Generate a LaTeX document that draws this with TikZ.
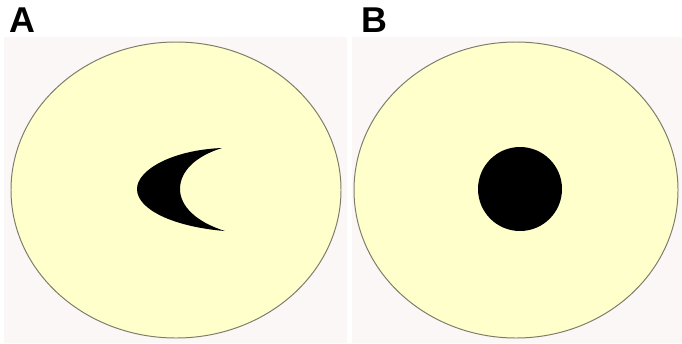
\documentclass[tikz,border=0pt]{standalone}
\usepackage{fontspec}
\setmainfont{Liberation Sans}
\definecolor{PanelPink}{RGB}{252,247,247}
\definecolor{CellYellow}{RGB}{255,255,204}
\definecolor{RimGray}{RGB}{125,125,105}
\usetikzlibrary{positioning}

\begin{document}
\begin{tikzpicture}[x=0.025cm, y=-0.025cm,
    panel/.style={fill=PanelPink, draw=none},
    cell/.style={fill=CellYellow, draw=RimGray, line width=0.7pt},
    tag/.style={font=\fontsize{25.5}{26}\selectfont\bfseries, inner sep=0pt, anchor=north west}]
      \useasboundingbox (0,0) rectangle (682,343);

      % two panels
      \fill[panel] (4,37) rectangle (347,343);
      \fill[panel] (352,37) rectangle (682,343);

      % cells
      \draw[cell] (176,190) ellipse [x radius=165, y radius=148];
      \draw[cell] (516,190) ellipse [x radius=162, y radius=148];

      % crescent in A
      \fill[black] (222,148) .. controls (172,150) and (137,170) .. (137,189)
            .. controls (137,210) and (175,227) .. (225,231)
            .. controls (196,222) and (180,206) .. (180,189)
            .. controls (180,171) and (196,156) .. (222,148) -- cycle;

      % round body in B
      \fill[black] (520,189) circle [radius=42];

      % panel letters
      \node[tag] (labA) at (9,8) {A};
      \node[tag] (labB) at (361,8) {B};
\end{tikzpicture}
\end{document}
